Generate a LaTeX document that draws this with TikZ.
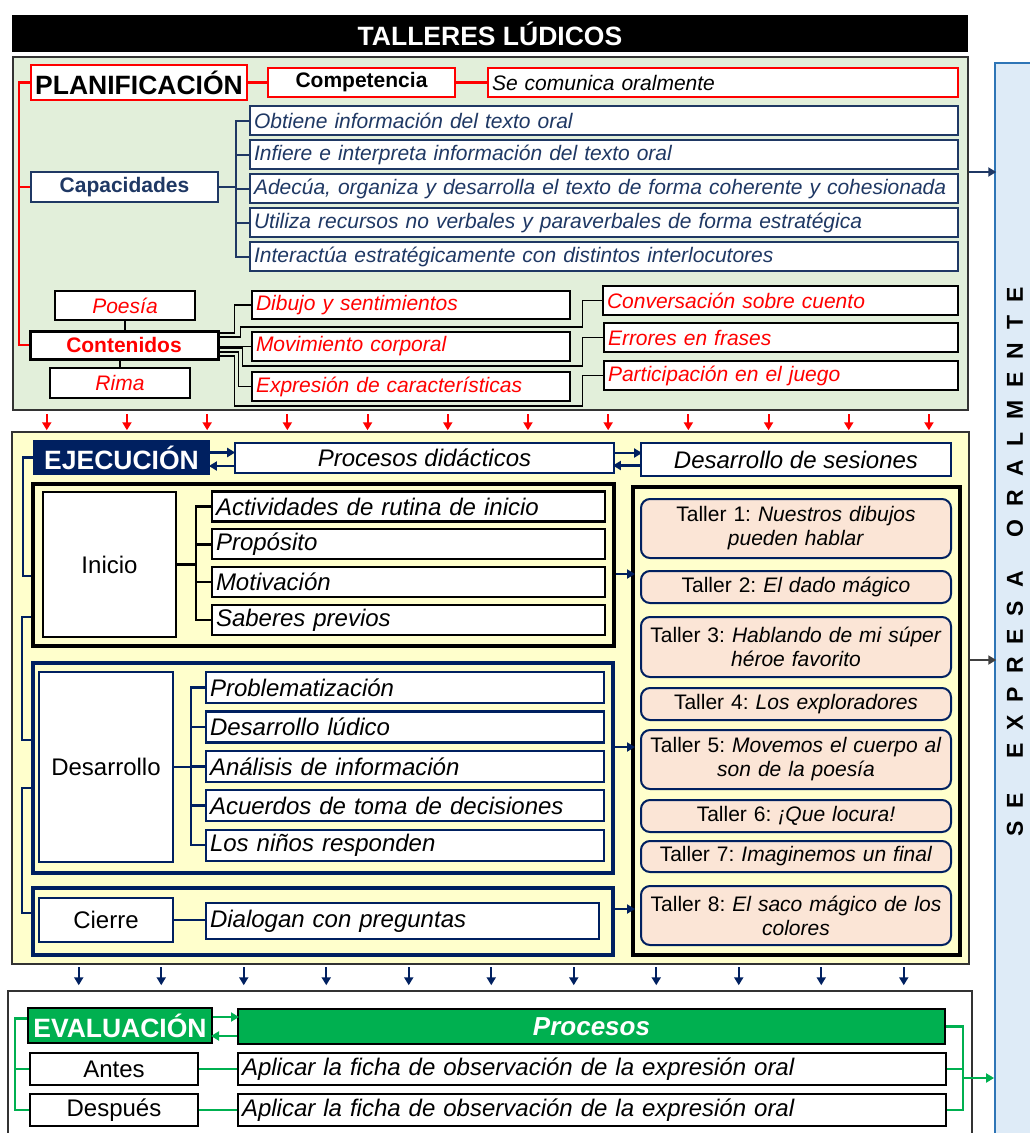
\documentclass[tikz,border=0pt]{standalone}
\usepackage{fontspec}
\setmainfont{Liberation Sans}
\usetikzlibrary{arrows.meta}
\frenchspacing

\definecolor{verdeplan}{HTML}{E2EFDA}
\definecolor{amarilloejec}{HTML}{FFFFCC}
\definecolor{azulcap}{HTML}{1F3864}
\definecolor{marino}{HTML}{002060}
\definecolor{salmon}{HTML}{FBE5D6}
\definecolor{verdeeval}{HTML}{00B050}
\definecolor{celeste}{HTML}{DEEBF7}
\definecolor{azulborde}{HTML}{2E75B6}

\newcommand{\fsz}[1]{\fontsize{#1}{#1}\selectfont}
\newcommand{\ls}{\hspace{13pt}}
\newcommand{\ws}{\hspace{34pt}}

\begin{document}
\begin{tikzpicture}[x=1pt, y=-1pt, inner sep=0pt, >={Triangle[length=8pt, width=9pt]},
	panel/.style={draw=black!80, line width=2.5pt},
	caja/.style={draw, line width=2.2pt, fill=white},
	marco/.style={draw, line width=4pt},
	tam/.style 2 args={minimum width=#1, minimum height=#2},
	izq/.style={text width=#1, align=left, inner xsep=4pt},
	roja/.style={caja, draw=black, text=red, font=\itshape\fsz{21}},
	azul/.style={caja, draw=azulcap, text=azulcap, font=\itshape\fsz{21}},
	paso/.style={caja, font=\itshape\fsz{24}},
	taller/.style={draw=marino, line width=2pt, fill=salmon, rounded corners=9pt, minimum width=310pt, text width=306pt, align=center, font=\fontsize{21}{24}\selectfont},
	linea/.style={line width=2pt}]
	\useasboundingbox (0,0) rectangle (1030,1133);

	\node[panel, fill=verdeplan, tam={955pt}{353pt}] (plan) at (490.5,233.5) {};
	\node[panel, fill=amarilloejec, tam={957pt}{532pt}] (ejec) at (490.5,698) {};
	\node[panel, fill=white, tam={964pt}{152pt}] (eval) at (490,1067) {};
	\node[draw=azulborde, line width=2pt, fill=celeste, tam={45pt}{1082pt}] (barra) at (1017.5,604) {};
	\node[fill=black, tam={956pt}{37pt}, text=white, font=\bfseries\fsz{26.5}] (titulo) at (490,33.5) {TALLERES LÚDICOS};
	\node[rotate=90, font=\bfseries\fsz{23}] (lema) at (1015,562) {S\ls E\ws E\ls X\ls P\ls R\ls E\ls S\ls A\ws O\ls R\ls A\ls L\ls M\ls E\ls N\ls T\ls E};

	\node[caja, draw=red, line width=2.5pt, tam={216pt}{35pt}, font=\bfseries\fsz{26.5}] (planif) at (139,82.5) {PLANIFICACIÓN};
	\node[caja, draw=red, line width=2.5pt, tam={187pt}{29pt}, font=\bfseries\fsz{21}] (compet) at (361.5,82.5) {Competencia};
	\node[caja, draw=red, line width=2.5pt, izq=462pt, minimum height=29pt, font=\itshape\fsz{21}] (comunica) at (723,82.5) {Se comunica oralmente};
	\node[caja, draw=azulcap, text=azulcap, tam={187pt}{30pt}, font=\bfseries\fsz{21}] (capac) at (124.5,187) {Capacidades};
	\node[azul, izq=700pt, minimum height=29pt] (cap1) at (604,120.5) {Obtiene información del texto oral};
	\node[azul, izq=700pt, minimum height=29pt] (cap2) at (604,154.5) {Infiere e interpreta información del texto oral};
	\node[azul, izq=700pt, minimum height=29pt] (cap3) at (604,188.5) {Adecúa, organiza y desarrolla el texto de forma coherente y cohesionada};
	\node[azul, izq=700pt, minimum height=29pt] (cap4) at (604,222.5) {Utiliza recursos no verbales y paraverbales de forma estratégica};
	\node[azul, izq=700pt, minimum height=29pt] (cap5) at (604,256.5) {Interactúa estratégicamente con distintos interlocutores};
	\node[roja, tam={140pt}{29pt}] (poesia) at (125,305.5) {Poesía};
	\node[roja, line width=3pt, tam={188pt}{28pt}, font=\bfseries\fsz{21}] (conte) at (124,345) {Contenidos};
	\node[roja, tam={140pt}{30pt}] (rima) at (120,383) {Rima};
	\node[roja, izq=310pt, minimum height=28pt] (dibujo) at (411,305) {Dibujo y sentimientos};
	\node[roja, izq=310pt, minimum height=29pt] (movim) at (411,346.5) {Movimiento corporal};
	\node[roja, izq=310pt, minimum height=29pt] (expres) at (411,386.5) {Expresión de características};
	\node[roja, izq=347pt, minimum height=29pt] (conver) at (780.5,300.5) {Conversación sobre cuento};
	\node[roja, izq=346pt, minimum height=29pt] (errores) at (781,337.5) {Errores en frases};
	\node[roja, izq=346pt, minimum height=29pt] (partic) at (781,375.5) {Participación en el juego};

	\draw[red, line width=2.5pt] (planif.east) -- (compet.west) (compet.east) -- (comunica.west);
	\draw[red, line width=2.5pt] (planif.west) -- ++(-11,0) |- (conte.west) (capac.west) -- ++(-11,0);
	\foreach \i in {1,...,5}
		\draw[azulcap, linea] (capac.east) -- ++(17,0) |- (cap\i.west);
	\draw[line width=1.5pt] (poesia.south) -- (poesia.south |- conte.north) (rima.north) -- (rima.north |- conte.south);
	\draw[line width=1.5pt] ([yshift=12pt]conte.east) -- ++(15,0) |- (dibujo.west);
	\draw[line width=1.5pt] ([yshift=8pt]conte.east) -- ++(21,0) |- ++(342,-10) |- (conver.west);
	\draw[line width=1.5pt] (conte.east |- movim.west) -- (movim.west);
	\draw[line width=1.5pt] ([yshift=-3pt]conte.east) -- ++(23,0) |- ++(340,18) |- (errores.west);
	\draw[line width=1.5pt] ([yshift=-7pt]conte.east) -- ++(19,0) |- (expres.west);
	\draw[line width=1.5pt] ([yshift=-11pt]conte.east) -- ++(15,0) |- ++(348,50) |- (partic.west);
	\foreach \x in {0,...,11}
		\draw[->, red, linea] (plan.south west) ++(35+80.2*\x,3) -- ++(0,16);

	\node[fill=marino, tam={177pt}{35pt}, text=white, font=\bfseries\fsz{26.5}] (ejecl) at (121.5,457.5) {EJECUCIÓN};
	\node[paso, draw=marino, tam={379pt}{30pt}] (procd) at (424.5,458) {Procesos didácticos};
	\node[paso, draw=marino, tam={310pt}{33pt}] (dses) at (796,459.5) {Desarrollo de sesiones};
	\node[marco, draw=black, tam={581pt}{162pt}] (fini) at (323.5,565) {};
	\node[marco, draw=marino, tam={580pt}{210pt}] (fdes) at (323,768) {};
	\node[marco, draw=marino, tam={580pt}{67pt}] (fcie) at (323,921.5) {};
	\node[marco, draw=black, tam={327pt}{468pt}] (ftal) at (796.5,721) {};

	\node[caja, draw=black, tam={133pt}{145pt}, font=\fsz{24}] (inicio) at (109.5,564.5) {Inicio};
	\node[paso, draw=black, izq=385pt, minimum height=30pt] (ini1) at (408.5,506.5) {Actividades de rutina de inicio};
	\node[paso, draw=black, izq=385pt, minimum height=30pt] (ini2) at (408.5,544.3) {Propósito};
	\node[paso, draw=black, izq=385pt, minimum height=30pt] (ini3) at (408.5,582.1) {Motivación};
	\node[paso, draw=black, izq=385pt, minimum height=30pt] (ini4) at (408.5,619.9) {Saberes previos};
	\node[caja, draw=marino, tam={134pt}{190pt}, font=\fsz{24}] (desa) at (106,767) {Desarrollo};
	\node[paso, draw=marino, izq=390pt, minimum height=31pt] (des1) at (405,687.5) {Problematización};
	\node[paso, draw=marino, izq=390pt, minimum height=31pt] (des2) at (405,726.9) {Desarrollo lúdico};
	\node[paso, draw=marino, izq=390pt, minimum height=31pt] (des3) at (405,766.3) {Análisis de información};
	\node[paso, draw=marino, izq=390pt, minimum height=31pt] (des4) at (405,805.7) {Acuerdos de toma de decisiones};
	\node[paso, draw=marino, izq=390pt, minimum height=31pt] (des5) at (405,845.1) {Los niños responden};
	\node[caja, draw=marino, tam={134pt}{44pt}, font=\fsz{24}] (cierre) at (106,920) {Cierre};
	\node[paso, draw=marino, izq=385pt, minimum height=36pt] (dialog) at (402.5,921) {Dialogan con preguntas};

	\node[taller, minimum height=59pt] (t1) at (796,528.5) {Taller 1: \textit{Nuestros dibujos}\\\textit{pueden hablar}};
	\node[taller, minimum height=32pt] (t2) at (796,587) {Taller 2: \textit{El dado mágico}};
	\node[taller, minimum height=60pt] (t3) at (796,647) {Taller 3: \textit{Hablando de mi súper}\\\textit{héroe favorito}};
	\node[taller, minimum height=32pt] (t4) at (796,704) {Taller 4: \textit{Los exploradores}};
	\node[taller, minimum height=59pt] (t5) at (796,759.5) {Taller 5: \textit{Movemos el cuerpo al}\\\textit{son de la poesía}};
	\node[taller, minimum height=32pt] (t6) at (796,816) {Taller 6: \textit{¡Que locura!}};
	\node[taller, minimum height=31pt] (t7) at (796,856.5) {Taller 7: \textit{Imaginemos un final}};
	\node[taller, minimum height=59pt] (t8) at (796,915.5) {Taller 8: \textit{El saco mágico de los}\\\textit{colores}};

	\draw[->, marino, line width=2.5pt] ([yshift=5pt]ejecl.east) -- ++(25,0);
	\draw[->, marino, line width=2.5pt] ([yshift=-8pt]procd.west) -- ++(-25,0);
	\draw[->, marino, line width=2.5pt] ([yshift=5pt]procd.east) -- ++(27,0);
	\draw[->, marino, line width=2.5pt] ([yshift=-6pt]dses.west) -- ++(-27,0);
	\draw[marino, line width=2.5pt] (ejecl.west) -- ++(-10,0) |- ([yshift=-11pt]fini.west);
	\draw[marino, line width=2.5pt] ([yshift=-52pt]fini.west) -- ++(-9,0) |- ([yshift=28pt]fdes.west);
	\draw[marino, line width=2.5pt] ([yshift=-20pt]fdes.west) -- ++(-9,0) |- ([yshift=8.5pt]fcie.west);
	\foreach \i in {1,...,4}
		\draw[line width=2.5pt] (inicio.east) -- ++(19,0) |- (ini\i.west);
	\foreach \i in {1,...,5}
		\draw[marino, line width=2.5pt] (desa.east) -- ++(17,0) |- (des\i.west);
	\draw[marino, line width=2.5pt] (cierre.east) -- (cierre.east -| dialog.west);
	\draw[->, marino, line width=2.5pt] ([yshift=-9pt]fini.east) -- ++(19,0);
	\draw[->, marino, line width=2.5pt] ([yshift=21pt]fdes.east) -- ++(20,0);
	\draw[->, marino, line width=2.5pt] ([yshift=12.5pt]fcie.east) -- ++(20,0);
	\draw[->, azulcap, linea] ([yshift=61.5pt]plan.east) -- ++(27,0);
	\draw[->, black!75, linea] ([yshift=38pt]ejec.east) -- ++(26,0);
	\foreach \x in {0,...,10}
		\draw[->, marino, linea] (ejec.south west) ++(68+82.5*\x,2) -- ++(0,18);

	\node[draw=black, line width=2pt, fill=verdeeval, tam={184pt}{35pt}, text=white, font=\bfseries\fsz{26.5}] (evall) at (120,1025.5) {EVALUACIÓN};
	\node[draw=black, line width=2pt, fill=verdeeval, tam={707pt}{35pt}, text=white, font=\bfseries\itshape\fsz{26}] (proc) at (591.5,1026.5) {Procesos};
	\node[caja, draw=black, tam={168pt}{32pt}, font=\fsz{24}] (antes) at (114,1069) {Antes};
	\node[paso, draw=black, izq=700pt, minimum height=32pt] (apl1) at (592,1069) {Aplicar la ficha de observación de la expresión oral};
	\node[caja, draw=black, tam={168pt}{32pt}, font=\fsz{24}] (despues) at (114,1110) {Después};
	\node[paso, draw=black, izq=700pt, minimum height=32pt] (apl2) at (592,1110) {Aplicar la ficha de observación de la expresión oral};

	\draw[->, verdeeval, line width=2.5pt] ([yshift=8.5pt]evall.east) -- ++(26,0);
	\draw[->, verdeeval, line width=2.5pt] ([yshift=-9.5pt]proc.west) -- ++(-26,0);
	\draw[verdeeval, line width=2.5pt] (antes.east) -- (apl1.west) (despues.east) -- (apl2.west);
	\draw[verdeeval, line width=2.5pt] ([yshift=7pt]evall.west) -- ++(-12,0) |- (despues.west) (antes.west) -- ++(-14,0);
	\draw[verdeeval, line width=2.5pt] (proc.east) -- ++(17,0) |- (apl2.east) (apl1.east) -- ++(16,0);
	\draw[->, verdeeval, line width=2.5pt] ([yshift=-9pt]apl1.east) ++(16,0) -- ++(31,0);
\end{tikzpicture}
\end{document}
